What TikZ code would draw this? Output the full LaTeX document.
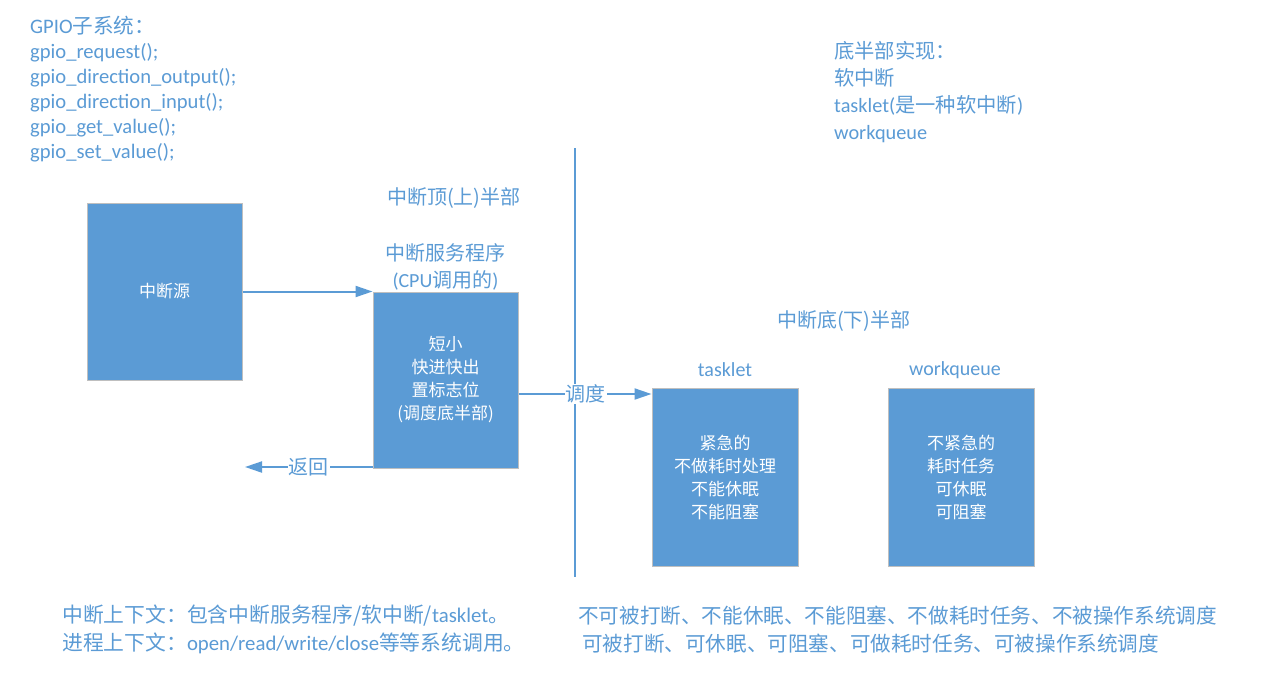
\documentclass[tikz,border=0pt]{standalone}
\usepackage{fontspec}
\setmainfont{Carlito}
\newfontfamily\cjk{Noto Sans CJK SC}
\newcommand\zh[1]{{\cjk #1}}
\usetikzlibrary{arrows.meta}
\definecolor{mblue}{HTML}{5B9BD5}
\definecolor{bgray}{HTML}{BFBFBF}
\begin{document}
\begin{tikzpicture}[x=1pt,y=-1pt,
  blk/.style={draw=bgray,line width=1pt,fill=mblue,text=white,align=center,inner sep=0pt,
    font=\fontsize{17}{23}\selectfont\cjk},
  txt/.style={text=mblue,inner sep=0pt,font=\fontsize{20}{25}\selectfont},
  lab/.style={text=mblue,fill=white,inner sep=1pt,font=\fontsize{20}{25}\selectfont\cjk},
  arr/.style={draw=mblue,line width=2pt,-{Triangle[length=17pt,width=11pt]}},
  ln/.style={draw=mblue,line width=2pt}]
\useasboundingbox (0,0) rectangle (1281,678);
\fill[white] (0,0) rectangle (1281,678);

% boxes
\node[blk,minimum width=155pt,minimum height=177pt] (src) at (164.5,291.5) {中断源};
\node[blk,minimum width=145pt,minimum height=176pt] (isr) at (445.5,380) {短小\\快进快出\\置标志位\\(调度底半部)};
\node[blk,minimum width=146pt,minimum height=178pt] (tk) at (725,477) {紧急的\\不做耗时处理\\不能休眠\\不能阻塞};
\node[blk,minimum width=146pt,minimum height=178pt] (wq) at (961,477) {不紧急的\\耗时任务\\可休眠\\可阻塞};

% text blocks
\node[txt,anchor=west,align=left,font=\fontsize{20.6}{25}\selectfont] (gpio) at (30,89.5)
  {GPIO\zh{子系统：}\\gpio\_request();\\gpio\_direction\_output();\\gpio\_direction\_input();\\gpio\_get\_value();\\gpio\_set\_value();};
\node[txt,anchor=west,align=left,font=\fontsize{20.3}{26.7}\selectfont] (impl) at (834,92)
  {\zh{底半部实现：}\\\zh{软中断}\\tasklet(\zh{是一种软中断})\\workqueue};

\node[txt,anchor=west] (top) at (387,198) {\zh{中断顶(上)半部}};
\node[txt,align=center,font=\fontsize{20}{27}\selectfont] (isrt) at (445.5,266.5) {\zh{中断服务程序}\\(CPU\zh{调用的})};
\node[txt,anchor=west] (bot) at (777,321) {\zh{中断底(下)半部}};
\node[txt] (tkl) at (725,370) {tasklet};
\node[txt] (wql) at (955,370) {workqueue};

\node[txt,anchor=west,align=left,font=\fontsize{20.8}{28}\selectfont] (ctx) at (62,629)
  {\zh{中断上下文：包含中断服务程序/软中断/}tasklet\zh{。}\\\zh{进程上下文：}open/read/write/close\zh{等等系统调用。}};
\node[txt,anchor=west,font=\fontsize{20.6}{25}\selectfont] (r1) at (578,616) {\zh{不可被打断、不能休眠、不能阻塞、不做耗时任务、不被操作系统调度}};
\node[txt,anchor=west,font=\fontsize{20.6}{25}\selectfont] (r2) at (582,644) {\zh{可被打断、可休眠、可阻塞、可做耗时任务、可被操作系统调度}};

% divider
\coordinate (vt) at (575,148);
\coordinate (vb) at (575,577);
\draw[ln] (vt) -- (vb);

% connectors
\draw[arr] (src.east) -- (isr.north west);
\coordinate (dd) at (0,394);
\draw[arr] (isr.east |- dd) -- node[lab,pos=0.505] {调度} (tk.west |- dd);
\coordinate (ret) at (245,467);
\draw[arr] (isr.west |- ret) -- node[lab] {返回} (ret);
\end{tikzpicture}
\end{document}
